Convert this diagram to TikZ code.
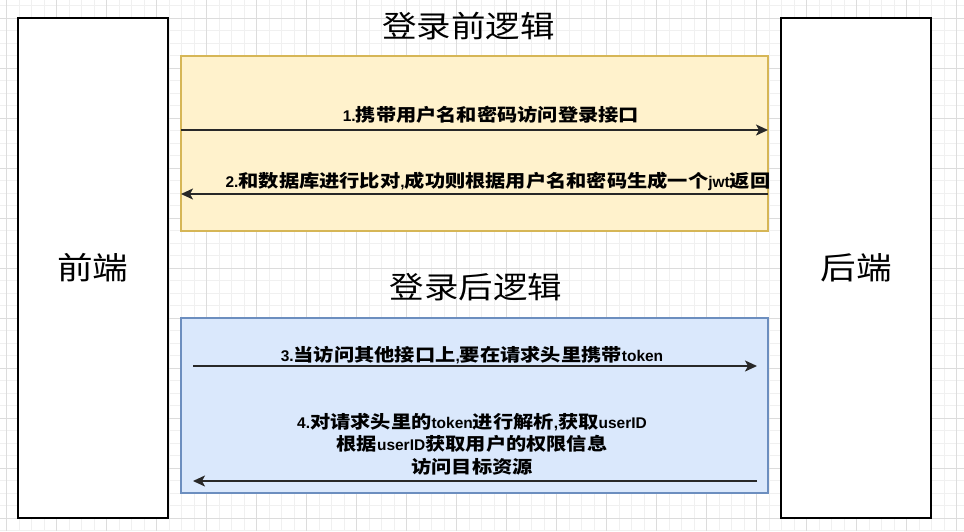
\documentclass[tikz,border=0pt]{standalone}
\usepackage{fontspec}
\setmainfont{Liberation Sans}
\newfontfamily\cjk[FakeStretch=1.15]{Noto Sans CJK SC}
\usetikzlibrary{arrows.meta,positioning}
\definecolor{GridMinor}{RGB}{240,240,240}
\definecolor{GridMajor}{RGB}{220,220,220}
\definecolor{BeforeFill}{HTML}{FFF2CC}
\definecolor{BeforeLine}{HTML}{D6B656}
\definecolor{AfterFill}{HTML}{DAE8FC}
\definecolor{AfterLine}{HTML}{6C8EBF}
\definecolor{CallGray}{RGB}{40,40,40}
\newcommand{\zhtext}[1]{{\cjk\fontsize{17.6}{22.5}\selectfont #1}}

\begin{document}
\begin{tikzpicture}[x=1pt,y=-1pt,
    gridminor/.style={draw=GridMinor, line width=0.8pt},
    gridmajor/.style={draw=GridMajor, line width=0.8pt},
    sidebox/.style={draw=black, line width=1.3pt, fill=white, minimum width=150pt, minimum height=500pt, inner sep=0pt, font=\cjk\fontsize{31}{34}\selectfont},
    phasebox/.style={line width=1.2pt, minimum width=587pt, minimum height=175pt, inner sep=0pt},
    phasetitle/.style={font=\cjk\fontsize{30}{34}\selectfont, inner sep=0pt},
    msg/.style={font=\bfseries\fontsize{15.5}{22.5}\selectfont, align=center, inner sep=0pt},
    call/.style={-{Stealth[length=12pt,width=11pt,inset=3pt]}, line width=1.6pt, draw=CallGray}]
    \useasboundingbox (0,0) rectangle (964,531);
    \fill[white] (0,0) rectangle (964,531);
    \foreach \gx in {6.7,19.2,...,964} \draw[gridminor] (\gx,0) -- (\gx,531);
    \foreach \gy in {5.5,18,...,531} \draw[gridminor] (0,\gy) -- (964,\gy);
    \foreach \gx in {6.7,56.7,...,964} \draw[gridmajor] (\gx,0) -- (\gx,531);
    \foreach \gy in {18,68,...,531} \draw[gridmajor] (0,\gy) -- (964,\gy);

    \node[sidebox] (front) at (93,268) {前端};
    \node[sidebox] (back) at (856,268) {后端};

    \node[phasebox, draw=BeforeLine, fill=BeforeFill] (before) at (474.5,143.5) {};
    \node[phasebox, draw=AfterLine, fill=AfterFill] (after) at (474.5,405.5) {};
    \node[phasetitle] (beforetitle) at (468.5,26.5) {登录前逻辑};
    \node[phasetitle] (aftertitle) at (476,287.5) {登录后逻辑};

    \node[msg] (msg1) at (491,115) {1.\zhtext{携带用户名和密码访问登录接口}};
    \node[msg] (msg2) at (498,181) {2.\zhtext{和数据库进行比对},\zhtext{成功则根据用户名和密码生成一个}jwt\zhtext{返回}};
    \node[msg] (msg3) at (472,355) {3.\zhtext{当访问其他接口上},\zhtext{要在请求头里携带}token};
    \node[msg] (msg4) at (472,444) {4.\zhtext{对请求头里的}token\zhtext{进行解析},\zhtext{获取}userID\\
        \zhtext{根据}userID\zhtext{获取用户的权限信息}\\
        \zhtext{访问目标资源}};

    \coordinate (call1from) at (181,130);
    \coordinate (call1to) at (768,130);
    \coordinate (call2from) at (768,194);
    \coordinate (call2to) at (181,194);
    \coordinate (call3from) at (193,366);
    \coordinate (call3to) at (757,366);
    \coordinate (call4from) at (757,481);
    \coordinate (call4to) at (193,481);

    \draw[call] (call1from) -- (call1to);
    \draw[call] (call2from) -- (call2to);
    \draw[call] (call3from) -- (call3to);
    \draw[call] (call4from) -- (call4to);
\end{tikzpicture}
\end{document}
